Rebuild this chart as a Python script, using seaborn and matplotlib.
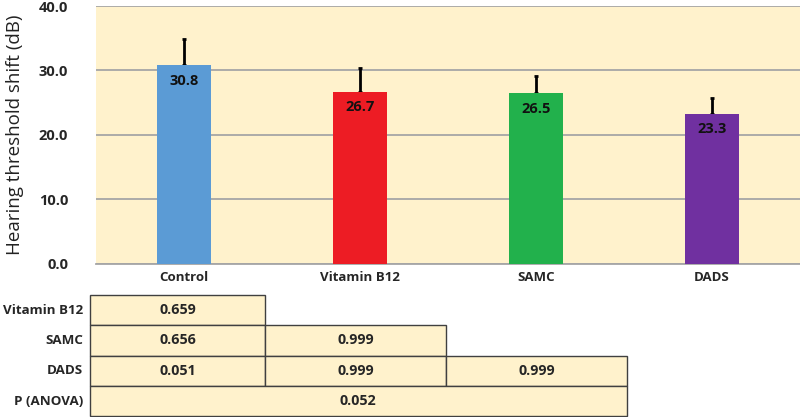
import numpy as np
import pandas as pd
import matplotlib
matplotlib.use("Agg")
import matplotlib.pyplot as plt
from matplotlib.patches import Rectangle
import seaborn as sns

# data
groups = ["Control", "Vitamin B12", "SAMC", "DADS"]
means = [30.8, 26.7, 26.5, 23.3]
errs = [4.1, 3.7, 2.6, 2.4]
colors = ["#5B9BD5", "#ED1C24", "#22B14C", "#7030A0"]

# pairwise p-values table
row_labels = ["Vitamin B12", "SAMC", "DADS", "P (ANOVA)"]
p_rows = [["0.659"], ["0.656", "0.999"], ["0.051", "0.999", "0.999"]]
p_anova = "0.052"

bg = "#FFF2CC"
sns.set_theme(style="white")
plt.rcParams["font.family"] = ["Open Sans", "DejaVu Sans"]

df = pd.DataFrame({"group": groups, "mean": means})

fig = plt.figure(figsize=(8, 4.17), dpi=100)
ax = fig.add_axes([0.12, 0.367, 0.88, 0.6186])
ax.set_facecolor(bg)
sns.barplot(data=df, x="group", y="mean", hue="group", palette=colors,
            width=0.31, saturation=1, legend=False, ax=ax, zorder=3, linewidth=0)
ax.errorbar(range(len(groups)), means, yerr=[[0] * 4, errs], fmt="none",
            ecolor="black", elinewidth=2, capsize=1.5, capthick=2, zorder=2)
for i, v in enumerate(means):
    ax.text(i, v - 2.4, f"{v:.1f}", ha="center", va="center", fontsize=10.5,
            fontweight="bold", color="#111111", zorder=4)

ax.set_ylim(0, 40)
ax.set_xlim(-0.5, 3.5)
ax.set_yticks([0, 10, 20, 30, 40])
ax.set_yticklabels([f"{t:.1f}" for t in [0, 10, 20, 30, 40]], fontsize=10.5, fontweight="bold")
ax.yaxis.grid(True, color="#A6A6A6", linewidth=1.3, zorder=0)
ax.set_axisbelow(True)
ax.tick_params(axis="x", labelsize=9.5, length=0, pad=5)
ax.tick_params(axis="y", length=0, pad=20)
for lab in ax.get_xticklabels():
    lab.set_fontweight("bold")
ax.set_xlabel("")
ax.set_ylabel("Hearing threshold shift (dB)", fontsize=13.5, color="#222222")
ax.yaxis.set_label_coords(-0.102, 0.5)
for s in ["left", "right", "top"]:
    ax.spines[s].set_visible(False)
ax.spines["bottom"].set_color("#A6A6A6")
ax.spines["bottom"].set_linewidth(1.3)

# table drawn in pixel space below the chart
tx = fig.add_axes([0, 0, 1, 1], zorder=-1)
tx.set_xlim(0, 800)
tx.set_ylim(417, 0)
tx.axis("off")
col_edges = [90, 265, 446, 627]
row_top = 295
row_h = 30.3
for r, lab in enumerate(row_labels):
    y0 = row_top + r * row_h
    tx.text(83, y0 + row_h / 2, lab, ha="right", va="center", fontsize=9.6, fontweight="bold")
    if r < len(p_rows):
        for c, val in enumerate(p_rows[r]):
            tx.add_patch(Rectangle((col_edges[c], y0), col_edges[c + 1] - col_edges[c], row_h,
                                   facecolor=bg, edgecolor="#404040", linewidth=1))
            tx.text((col_edges[c] + col_edges[c + 1]) / 2, y0 + row_h / 2, val,
                    ha="center", va="center", fontsize=10.3, fontweight="bold")
    else:
        tx.add_patch(Rectangle((col_edges[0], y0), col_edges[-1] - col_edges[0], row_h,
                               facecolor=bg, edgecolor="#404040", linewidth=1))
        tx.text(358, y0 + row_h / 2, p_anova, ha="center", va="center",
                fontsize=10.3, fontweight="bold")

fig.savefig("out.png", dpi=100)
